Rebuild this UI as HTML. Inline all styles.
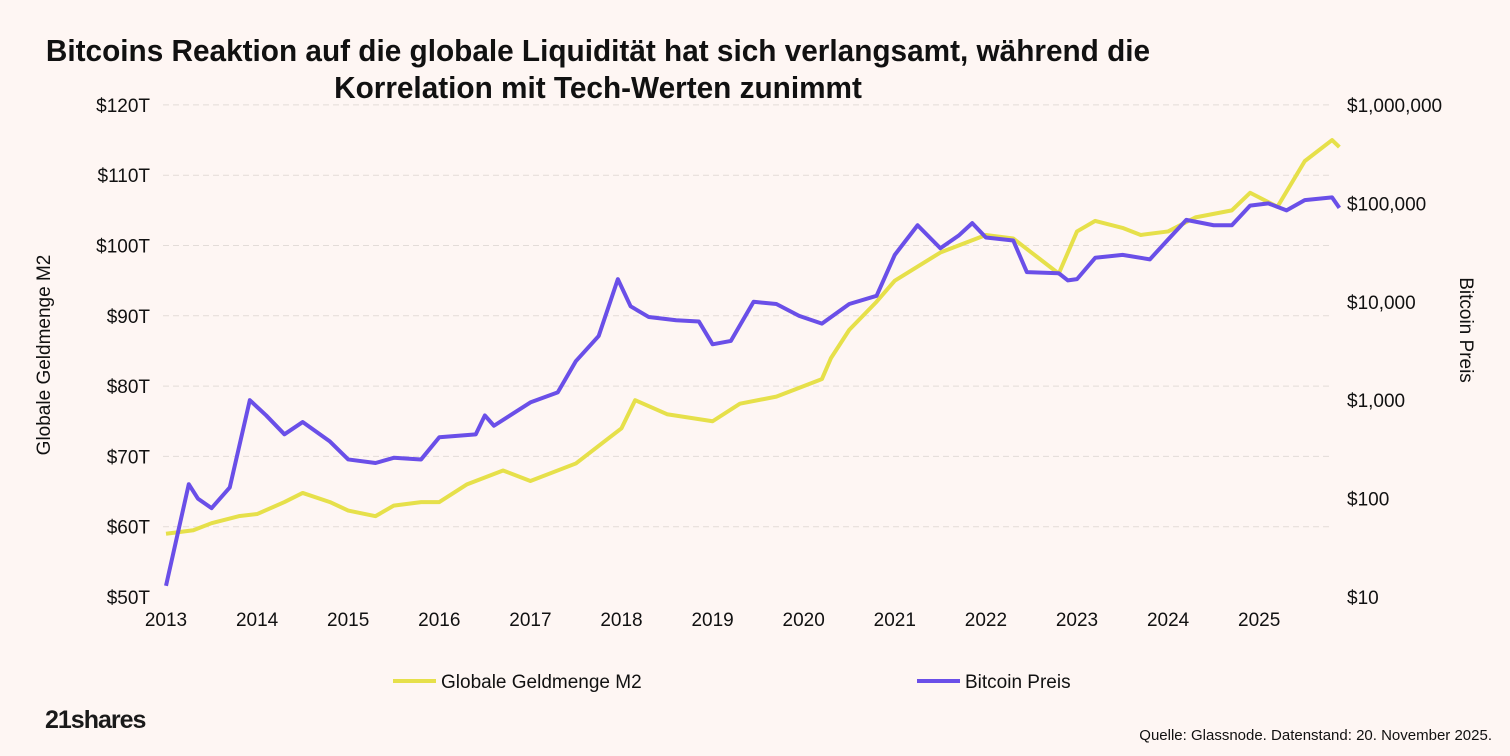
<!DOCTYPE html>
<html><head><meta charset="utf-8"><style>
body{margin:0;background:#fef6f3;}
svg{display:block;font-family:"Liberation Sans",sans-serif;}
</style></head><body>
<svg id="c" width="1510" height="756" viewBox="0 0 1510 756">
<rect width="1510" height="756" fill="#fef6f3"/>
<text x="598" y="61" text-anchor="middle" font-size="31" font-weight="bold" fill="#111" transform="translate(598 0) scale(0.96 1) translate(-598 0)">Bitcoins Reaktion auf die globale Liquidität hat sich verlangsamt, während die</text>
<text x="598" y="98" text-anchor="middle" font-size="31" font-weight="bold" fill="#111" transform="translate(598 0) scale(0.96 1) translate(-598 0)">Korrelation mit Tech-Werten zunimmt</text>
<g id="grid"></g><g id="ticks"></g><g id="lines"></g>
<text transform="translate(50 355) rotate(-90)" text-anchor="middle" font-size="19" fill="#111">Globale Geldmenge M2</text>
<text transform="translate(1460 330) rotate(90)" text-anchor="middle" font-size="19" fill="#111">Bitcoin Preis</text>
<g><line x1="393" y1="681" x2="436" y2="681" stroke="#e6e04a" stroke-width="4"/><text x="441" y="688" font-size="19" fill="#111">Globale Geldmenge M2</text></g>
<g><line x1="917" y1="681" x2="960" y2="681" stroke="#6a4fe8" stroke-width="4"/><text x="965" y="688" font-size="19" fill="#111">Bitcoin Preis</text></g>
<text x="45" y="728" font-size="25" font-weight="bold" fill="#1a1a1a" letter-spacing="-1">21shares</text>
<text x="1492" y="740" text-anchor="end" font-size="15" fill="#111">Quelle: Glassnode. Datenstand: 20. November 2025.</text>
</svg>
<script>
const years=[2013,2014,2015,2016,2017,2018,2019,2020,2021,2022,2023,2024,2025];
const leftTicks=[50,60,70,80,90,100,110,120];
const rightTicks=[10,100,1000,10000,100000,1000000];
const rightLabels=["$10","$100","$1,000","$10,000","$100,000","$1,000,000"];
const m2T=[2013.0,2013.3,2013.5,2013.8,2014.0,2014.3,2014.5,2014.8,2015.0,2015.3,2015.5,2015.8,2016.0,2016.3,2016.7,2017.0,2017.5,2017.8,2018.0,2018.15,2018.5,2019.0,2019.3,2019.7,2020.0,2020.2,2020.3,2020.5,2020.8,2021.0,2021.5,2022.0,2022.3,2022.5,2022.8,2023.0,2023.2,2023.5,2023.7,2024.0,2024.3,2024.7,2024.9,2025.2,2025.5,2025.8,2025.88];
const m2V=[59,59.5,60.5,61.5,61.8,63.5,64.8,63.5,62.3,61.5,63,63.5,63.5,66,68,66.5,69,72,74,78,76,75,77.5,78.5,80,81,84,88,92,95,99,101.5,101,99,96,102,103.5,102.5,101.5,102,104,105,107.5,105.5,112,115,114];
const btcT=[2013.0,2013.25,2013.35,2013.5,2013.7,2013.92,2014.1,2014.3,2014.5,2014.8,2015.0,2015.3,2015.5,2015.8,2016.0,2016.4,2016.5,2016.6,2017.0,2017.3,2017.5,2017.75,2017.96,2018.1,2018.3,2018.6,2018.85,2019.0,2019.2,2019.45,2019.7,2019.95,2020.2,2020.5,2020.8,2021.0,2021.25,2021.5,2021.7,2021.85,2022.0,2022.3,2022.45,2022.8,2022.9,2023.0,2023.2,2023.5,2023.8,2024.0,2024.2,2024.5,2024.7,2024.9,2025.1,2025.3,2025.5,2025.8,2025.88];
const btcV=[13,140,100,80,130,1000,700,450,600,380,250,230,260,250,420,450,700,550,950,1200,2500,4500,17000,9000,7000,6500,6300,3700,4000,10000,9500,7200,6000,9500,11500,30000,60000,35000,47000,63000,45000,42000,20000,19500,16500,17000,28000,30000,27000,43000,68000,60000,60000,95000,100000,85000,108000,115000,90000];
const X=t=>166+(t-2013)*91.1;
const YL=v=>597-(v-50)*7.03;
const YR=v=>597-(Math.log10(v)-1)*98.4;
const ns="http://www.w3.org/2000/svg";
function mk(tag,attrs,parent,txt){const e=document.createElementNS(ns,tag);for(const k in attrs)e.setAttribute(k,attrs[k]);if(txt!==undefined)e.textContent=txt;document.getElementById(parent).appendChild(e);return e;}
leftTicks.forEach(v=>{
 if(v>50){const g=mk('line',{x1:163,x2:1332,y1:YL(v),y2:YL(v),stroke:'#e3dcd8','stroke-dasharray':'6 4','stroke-width':1},'grid');
 
 }
 const t=mk('text',{x:150,y:YL(v)+7,'text-anchor':'end','font-size':19,fill:'#111'},'ticks','$'+v+'T');
 
 
});
rightTicks.forEach((v,i)=>{
 const t=mk('text',{x:1347,y:YR(v)+7,'font-size':19,fill:'#111'},'ticks',rightLabels[i]);
 
 
});
years.forEach(y=>{
 const t=mk('text',{x:X(y),y:626,'text-anchor':'middle','font-size':19,fill:'#111'},'ticks',String(y));
 
 
});
const p1=mk('polyline',{points:m2T.map((t,i)=>X(t)+','+YL(m2V[i])).join(' '),fill:'none',stroke:'#e6e04a','stroke-width':4,'stroke-linejoin':'round'},'lines');


const p2=mk('polyline',{points:btcT.map((t,i)=>X(t)+','+YR(btcV[i])).join(' '),fill:'none',stroke:'#6a4fe8','stroke-width':4,'stroke-linejoin':'round'},'lines');


</script>
</body></html>
